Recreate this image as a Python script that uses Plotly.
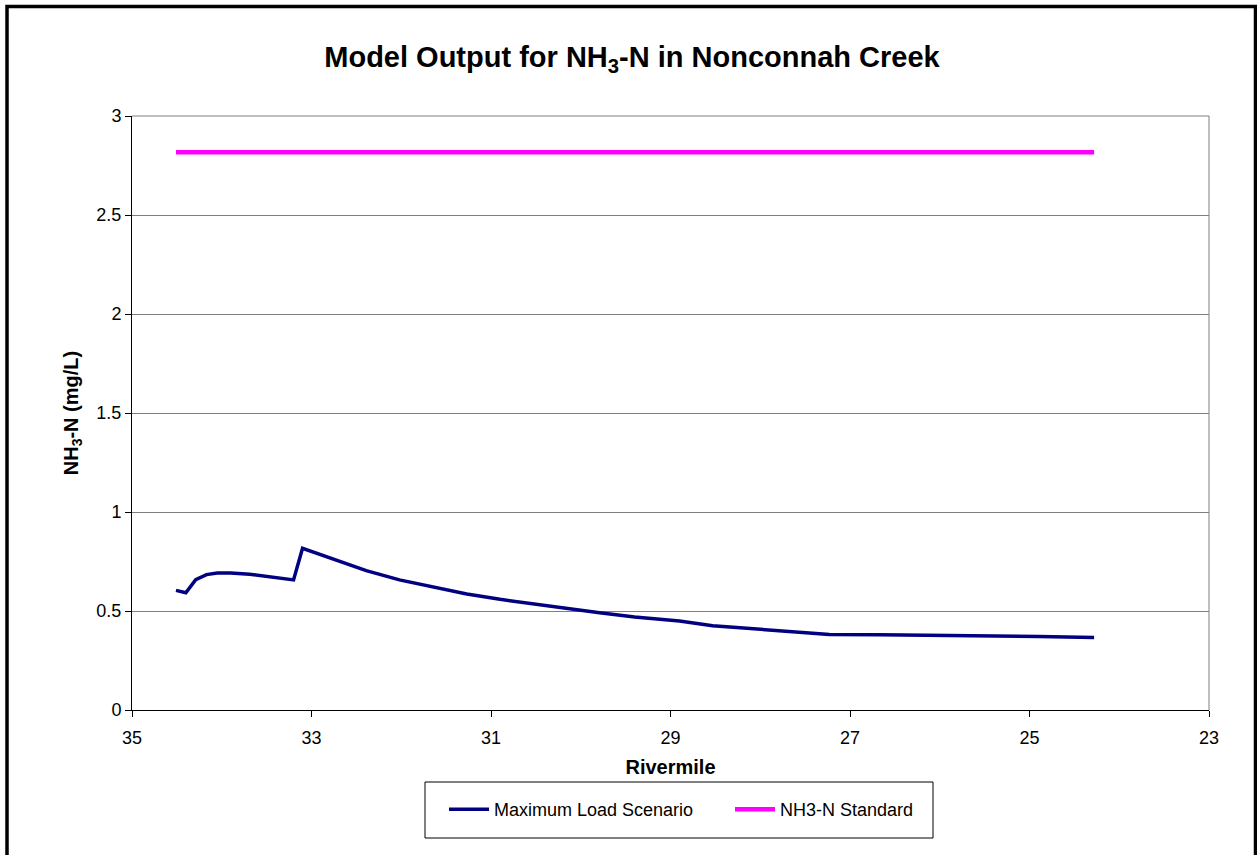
import plotly.graph_objects as go

# Data
rivermile = [34.51, 34.40, 34.29, 34.17, 34.05, 33.90, 33.69, 33.45, 33.20, 33.10,
             32.76, 32.39, 32.02, 31.65, 31.27, 30.90, 30.53, 30.16, 29.79, 29.40,
             28.90, 28.53, 28.15, 27.78, 27.45, 27.23, 26.67, 26.00, 25.52, 24.90, 24.28]
max_load = [0.604, 0.592, 0.658, 0.684, 0.692, 0.692, 0.686, 0.673, 0.657, 0.817,
            0.761, 0.704, 0.657, 0.620, 0.586, 0.559, 0.535, 0.512, 0.491, 0.470,
            0.449, 0.426, 0.413, 0.400, 0.389, 0.381, 0.380, 0.378, 0.375, 0.371, 0.366]
std_rivermile = [34.51, 24.28]
std_value = [2.817, 2.817]

series_names = ["Maximum Load Scenario", "NH3-N Standard"]
x_ticks = [35, 33, 31, 29, 27, 25, 23]
y_ticks = [0, 0.5, 1, 1.5, 2, 2.5, 3]
y_tick_text = ["0", "0.5", "1", "1.5", "2", "2.5", "3"]

FONT = "Liberation Sans, Arial, sans-serif"

fig = go.Figure()
fig.add_trace(go.Scatter(x=rivermile, y=max_load, mode="lines", name=series_names[0],
                         line=dict(color="#000080", width=3.5)))
fig.add_trace(go.Scatter(x=std_rivermile, y=std_value, mode="lines", name=series_names[1],
                         line=dict(color="#FF00FF", width=4.5)))

L, R, T, B = 132, 48, 116, 145
W, H = 1257, 855
pw, ph = W - L - R, H - T - B

def px_x(p):
    return (p - L) / pw

def px_y(p):
    return (H - B - p) / ph

fig.update_layout(
    width=W, height=H,
    margin=dict(l=L, r=R, t=T, b=B),
    paper_bgcolor="white", plot_bgcolor="white",
    font=dict(family=FONT, color="black", size=16),
    title=dict(text="<b>Model Output for NH<sub>3</sub>-N in Nonconnah Creek</b>",
               xref="container", x=632 / W, xanchor="center",
               yref="container", y=1 - 57 / H, yanchor="middle",
               font=dict(size=29, family=FONT)),
    xaxis=dict(range=[35, 23], tickvals=x_ticks, ticktext=[str(v) for v in x_ticks],
               showgrid=False, zeroline=False, showline=True, linecolor="black", linewidth=1,
               ticks="outside", ticklen=6, tickcolor="black", ticklabelstandoff=5,
               tickfont=dict(size=18, family=FONT),
               title=dict(text="<b>Rivermile</b>", font=dict(size=20, family=FONT), standoff=13)),
    yaxis=dict(range=[0, 3], tickvals=y_ticks, ticktext=y_tick_text,
               showgrid=True, gridcolor="#7f7f7f", gridwidth=1, zeroline=False,
               showline=True, linecolor="black", linewidth=1,
               ticks="outside", ticklen=6, tickcolor="black",
               tickfont=dict(size=18, family=FONT),
               title=dict(text="<b>NH<sub>3</sub>-N (mg/L)</b>", font=dict(size=20, family=FONT), standoff=12)),
    legend=dict(orientation="h", x=px_x(444), xanchor="left", y=px_y(791), yanchor="top",
                borderwidth=0, bgcolor="rgba(0,0,0,0)",
                font=dict(size=18, family=FONT), entrywidth=231, entrywidthmode="pixels",
                itemwidth=40),
    shapes=[
        # plot-area border (top and right, gray)
        dict(type="line", xref="paper", yref="paper", x0=0, x1=1, y0=1, y1=1,
             line=dict(color="#7f7f7f", width=1)),
        dict(type="line", xref="paper", yref="paper", x0=1, x1=1, y0=0, y1=1,
             line=dict(color="#7f7f7f", width=1)),
        # legend box
        dict(type="rect", xref="paper", yref="paper",
             x0=px_x(425), x1=px_x(933), y0=px_y(782), y1=px_y(838),
             line=dict(color="black", width=1)),
        # outer chart border
        dict(type="rect", xref="paper", yref="paper",
             x0=px_x(7), x1=px_x(1255.5), y0=px_y(6.5), y1=px_y(880),
             line=dict(color="black", width=3.5)),
    ],
)

fig.write_html("out.html", config={"displayModeBar": False},
               post_script="document.body.style.margin='0';")
